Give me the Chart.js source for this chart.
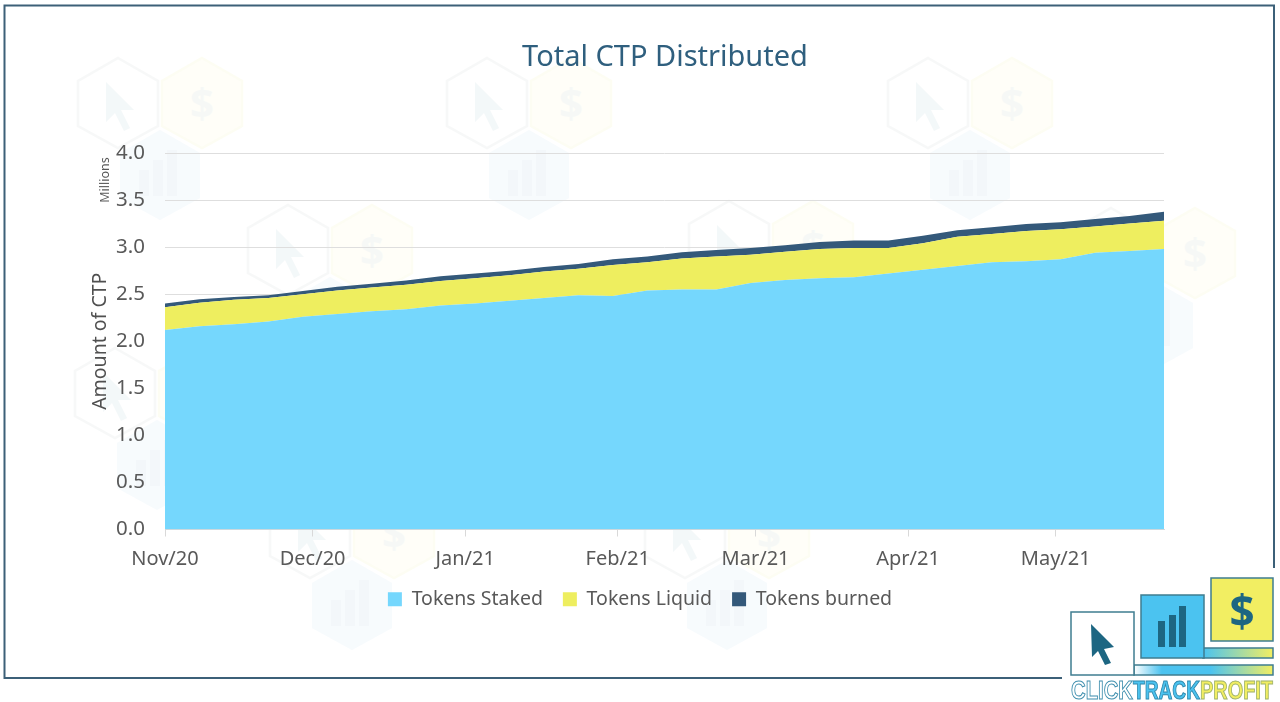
<!DOCTYPE html>
<html>
<head>
<meta charset="utf-8">
<title>Total CTP Distributed</title>
<script src="https://cdn.jsdelivr.net/npm/chart.js@4"></script>
<style>
  html, body { margin: 0; padding: 0; background: #fff; }
  #page { position: relative; width: 1280px; height: 702px; overflow: hidden; font-family: "Noto Sans", sans-serif; }
  #page svg, #page canvas { position: absolute; left: 0; top: 0; }
  #chartTitle { position: absolute; left: 365px; top: 35px; width: 600px; text-align: center; font-size: 29px; line-height: 40px; color: #2f5f7e; }
  #units { position: absolute; left: 75px; top: 173px; width: 60px; text-align: center; font-size: 12.5px; line-height: 14px; color: #595959; transform: rotate(-90deg); }
</style>
</head>
<body>
<div id="page">
  <!-- faded hexagon watermark and frame behind the chart -->
  <svg width="1280" height="702" xmlns="http://www.w3.org/2000/svg">
    <defs>
      <g id="mark" opacity="0.5">
        <polygon points="118,58 158,81 158,126 118,148 78,126 78,81" fill="#fff" stroke="#f0f3f3" stroke-width="2.5"/>
        <polygon points="106,82 106,122 115,113 124,131 130,128 121,110 134,110" fill="#e9f2f4"/>
        <polygon points="202,58 242,81 242,126 202,148 162,126 162,81" fill="#fffef3" stroke="#fdfde9" stroke-width="2.5"/>
        <text x="202" y="118" text-anchor="middle" font-size="42" font-weight="bold" fill="#eef3ef" font-family="Noto Sans">$</text>
        <polygon points="160,130 200,153 200,198 160,220 120,198 120,153" fill="#f0f8fd"/>
        <rect x="139" y="170" width="10" height="26" fill="#e8f1f6"/>
        <rect x="153" y="160" width="10" height="36" fill="#e8f1f6"/>
        <rect x="167" y="150" width="10" height="46" fill="#e8f1f6"/>
      </g>
      <linearGradient id="fade1" x1="0" x2="1" y1="0" y2="0">
        <stop offset="0" stop-color="#4bc3f0"/><stop offset="1" stop-color="#f2ee62"/>
      </linearGradient>
      <linearGradient id="fade2" x1="0" x2="1" y1="0" y2="0">
        <stop offset="0" stop-color="#ffffff"/><stop offset="0.2" stop-color="#4bc3f0"/><stop offset="0.55" stop-color="#4bc3f0"/><stop offset="1" stop-color="#f2ee62"/>
      </linearGradient>
    </defs>
    <use href="#mark"/>
    <use href="#mark" x="369"/>
    <use href="#mark" x="810"/>
    <use href="#mark" x="170" y="147"/>
    <use href="#mark" x="611" y="143"/>
    <use href="#mark" x="993" y="150"/>
    <use href="#mark" x="-3" y="290"/>
    <use href="#mark" x="192" y="430"/>
    <use href="#mark" x="567" y="430"/>
    <path d="M1274 568 V5.5 H4.5 V678 H1062" fill="none" stroke="#3c6078" stroke-width="2"/>
  </svg>

  <canvas id="ctpChart" width="1280" height="702"></canvas>
  <div id="chartTitle">Total CTP Distributed</div>
  <div id="units">Millions</div>

  <!-- ClickTrackProfit logo, bottom right -->
  <svg width="1280" height="702" xmlns="http://www.w3.org/2000/svg" style="pointer-events:none">
    <rect x="1134" y="665" width="139" height="10" fill="url(#fade2)" stroke="#3f7d90" stroke-width="1.5"/>
    <rect x="1071" y="612" width="63" height="63" fill="#fff" stroke="#3f7d90" stroke-width="1.5"/>
    <polygon points="1091,624 1114,647 1104,649 1111,663 1105,665 1098,651 1092,657" fill="#1d6682"/>
    <rect x="1203" y="648" width="70" height="10" fill="url(#fade1)" stroke="#3f7d90" stroke-width="1.5"/>
    <rect x="1141" y="595" width="63" height="63" fill="#4bc3f0" stroke="#3f7d90" stroke-width="1.5"/>
    <rect x="1158" y="621" width="7" height="26" fill="#1d6682"/>
    <rect x="1169" y="615" width="7" height="32" fill="#1d6682"/>
    <rect x="1179" y="606" width="7" height="41" fill="#1d6682"/>
    <rect x="1211" y="578" width="62" height="63" fill="#f2ee62" stroke="#3f7d90" stroke-width="1.5"/>
    <text x="1242" y="627" text-anchor="middle" font-size="44" font-weight="bold" fill="#1d6682" font-family="Noto Sans">$</text>
    <g font-family="Liberation Sans Narrow, Liberation Sans" font-weight="bold" font-size="25" stroke-width="1">
      <text x="1071" y="699" textLength="62" lengthAdjust="spacingAndGlyphs" fill="#fff" stroke="#3f8fae">CLICK</text>
      <text x="1133" y="699" textLength="67" lengthAdjust="spacingAndGlyphs" fill="#4bc3f0" stroke="#2f89ad">TRACK</text>
      <text x="1200" y="699" textLength="73" lengthAdjust="spacingAndGlyphs" fill="#f2ee62" stroke="#9fb36a">PROFIT</text>
    </g>
  </svg>
</div>

<script>
// days since 1 Nov 2020, one reading per week
const weekDays = [0, 7, 14, 21, 28, 35, 42, 49, 56, 63, 70, 77, 84, 91, 98, 105, 112, 119, 126, 133, 140, 147, 154, 161, 168, 175, 182, 189, 196, 203];

// values in millions of CTP
const tokensStaked = [2.12, 2.16, 2.18, 2.21, 2.26, 2.29, 2.32, 2.34, 2.38, 2.40, 2.43, 2.46, 2.49, 2.48, 2.54, 2.55, 2.55, 2.62, 2.65, 2.67, 2.68, 2.72, 2.76, 2.80, 2.84, 2.85, 2.87, 2.94, 2.96, 2.98];
const tokensLiquid = [0.24, 0.25, 0.26, 0.25, 0.24, 0.25, 0.25, 0.26, 0.26, 0.27, 0.27, 0.28, 0.28, 0.33, 0.30, 0.33, 0.35, 0.30, 0.30, 0.31, 0.31, 0.27, 0.28, 0.31, 0.30, 0.32, 0.32, 0.28, 0.29, 0.30];
const tokensBurned = [0.04, 0.035, 0.03, 0.03, 0.035, 0.04, 0.04, 0.045, 0.05, 0.05, 0.05, 0.05, 0.05, 0.06, 0.06, 0.065, 0.07, 0.07, 0.07, 0.075, 0.08, 0.08, 0.08, 0.07, 0.07, 0.075, 0.075, 0.08, 0.08, 0.095];

// x axis tick positions and labels
const monthDays = [0, 30, 61, 92, 120, 151, 181];
const monthLabels = ["Nov/20", "Dec/20", "Jan/21", "Feb/21", "Mar/21", "Apr/21", "May/21"];

const fontFamily = '"Noto Sans", sans-serif';
const textColor = "#595959";

function series(label, values, color, fill) {
  return {
    label: label,
    data: values.map((v, i) => ({ x: weekDays[i], y: v })),
    backgroundColor: color,
    borderWidth: 0,
    pointRadius: 0,
    tension: 0,
    fill: fill
  };
}

// x tick labels need a tall scale box, so pull the legend back up over it
const liftLegend = {
  id: "liftLegend",
  afterLayout(chart) {
    chart.legend.top -= 6;
    chart.legend.bottom -= 6;
  }
};

const ctx = document.getElementById("ctpChart").getContext("2d");
new Chart(ctx, {
  type: "line",
  plugins: [liftLegend],
  data: {
    datasets: [
      series("Tokens Staked", tokensStaked, "#75d7fd", "origin"),
      series("Tokens Liquid", tokensLiquid, "#eeee5f", "-1"),
      series("Tokens burned", tokensBurned, "#34597a", "-1")
    ]
  },
  options: {
    responsive: false,
    animation: false,
    layout: { autoPadding: false, padding: { left: 0, right: 0, top: 153, bottom: 77 } },
    plugins: {
      legend: {
        position: "bottom",
        labels: {
          color: textColor,
          font: { family: fontFamily, size: 19.5 },
          boxWidth: 14,
          boxHeight: 14,
          padding: 20
        }
      },
      tooltip: { enabled: false }
    },
    scales: {
      x: {
        type: "linear",
        min: 0,
        max: 203,
        afterBuildTicks: axis => { axis.ticks = monthDays.map(d => ({ value: d })); },
        afterFit: axis => { axis.height = 46; },
        grid: { drawOnChartArea: false, drawTicks: true, tickLength: 7, color: "#d9d9d9" },
        border: { color: "#d9d9d9" },
        ticks: {
          color: textColor,
          font: { family: fontFamily, size: 20 },
          maxRotation: 0,
          autoSkip: false,
          padding: 11,
          callback: v => monthLabels[monthDays.indexOf(v)]
        }
      },
      y: {
        stacked: true,
        min: 0,
        max: 4,
        afterFit: axis => { axis.width = 165; },
        grid: { color: "#dedede", drawTicks: false },
        border: { display: false },
        title: {
          display: true,
          text: "Amount of CTP",
          color: "#505050",
          font: { family: fontFamily, size: 19.5 },
          padding: { top: 89, bottom: 0 }
        },
        ticks: {
          color: textColor,
          font: { family: fontFamily, size: 20.5 },
          stepSize: 0.5,
          padding: 20,
          callback: v => v.toFixed(1)
        }
      },
      // empty axis, only keeps the plot clear of the right edge
      spacer: {
        position: "right",
        afterFit: axis => { axis.width = 116; },
        grid: { display: false },
        border: { display: false },
        ticks: { display: false }
      }
    }
  }
});
</script>
</body>
</html>
